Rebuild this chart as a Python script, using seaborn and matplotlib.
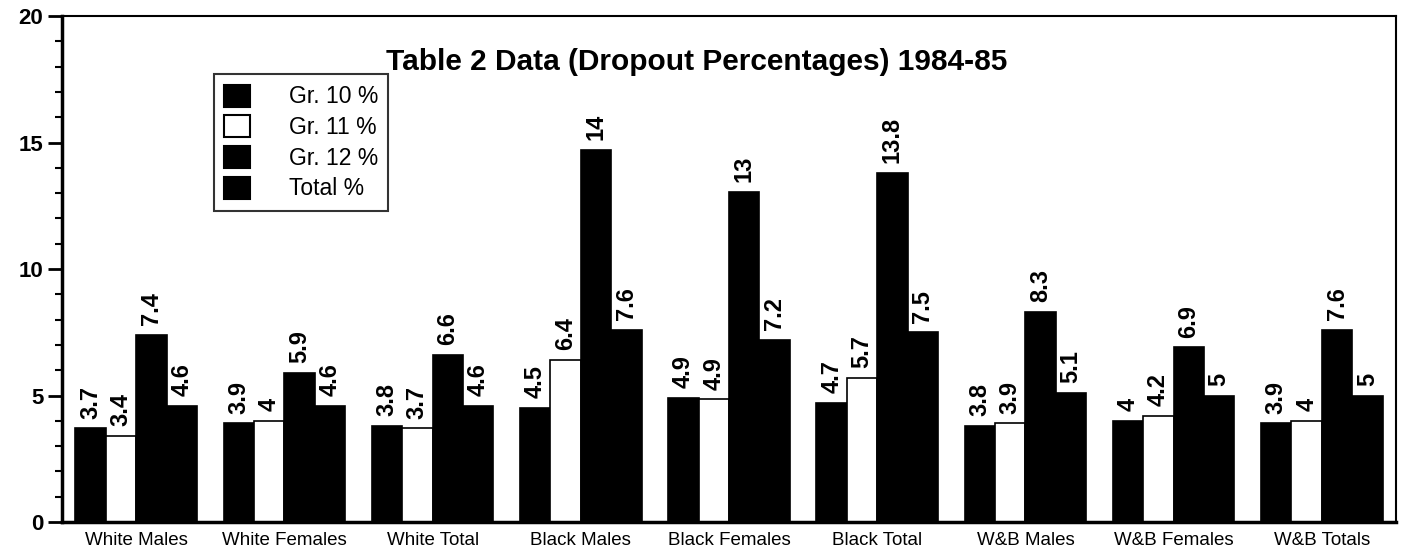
import matplotlib
matplotlib.use("Agg")
import matplotlib.pyplot as plt
from matplotlib.patches import Patch
from matplotlib.ticker import MultipleLocator
import seaborn as sns
import pandas as pd

# data
categories = ["White Males", "White Females", "White Total", "Black Males",
              "Black Females", "Black Total", "W&B Males", "W&B Females", "W&B Totals"]
series = ["Gr. 10 %", "Gr. 11 %", "Gr. 12 %", "Total %"]
gr10 = [3.7, 3.9, 3.8, 4.5, 4.9, 4.7, 3.8, 4.0, 3.9]
gr11 = [3.4, 4.0, 3.7, 6.4, 4.85, 5.7, 3.9, 4.2, 4.0]
gr12 = [7.4, 5.9, 6.6, 14.7, 13.05, 13.8, 8.3, 6.9, 7.6]
total = [4.6, 4.6, 4.6, 7.6, 7.2, 7.5, 5.1, 5.0, 5.0]
# printed labels (as shown in the chart)
gr10_lbl = ["3.7", "3.9", "3.8", "4.5", "4.9", "4.7", "3.8", "4", "3.9"]
gr11_lbl = ["3.4", "4", "3.7", "6.4", "4.9", "5.7", "3.9", "4.2", "4"]
gr12_lbl = ["7.4", "5.9", "6.6", "14", "13", "13.8", "8.3", "6.9", "7.6"]
total_lbl = ["4.6", "4.6", "4.6", "7.6", "7.2", "7.5", "5.1", "5", "5"]

values = [gr10, gr11, gr12, total]
labels = [gr10_lbl, gr11_lbl, gr12_lbl, total_lbl]
colors = ["black", "white", "black", "black"]

rows = []
for s, vals in zip(series, values):
    for c, v in zip(categories, vals):
        rows.append({"Category": c, "Series": s, "Value": v})
df = pd.DataFrame(rows)

sns.set_style("white")
plt.rcParams["font.family"] = ["Liberation Sans", "DejaVu Sans"]
plt.rcParams["text.color"] = "black"
plt.rcParams["xtick.color"] = "black"
plt.rcParams["ytick.color"] = "black"
plt.rcParams["axes.labelcolor"] = "black"

fig = plt.figure(figsize=(14.01, 5.52), dpi=100)
ax = fig.add_axes([0.0443, 0.0543, 0.9521, 0.9167])

sns.barplot(data=df, x="Category", y="Value", hue="Series", order=categories,
            hue_order=series, palette=colors, edgecolor="black", linewidth=1.2,
            width=0.82, gap=0, saturation=1, legend=False, ax=ax)

for cont, lbls in zip(ax.containers, labels):
    for bar, txt in zip(cont, lbls):
        x = bar.get_x() + bar.get_width() / 2
        ax.annotate(txt, (x, bar.get_height()), xytext=(0, 7), textcoords="offset points",
                    rotation=90, ha="center", va="bottom", fontsize=17, fontweight="bold")

ax.set_xlim(-0.5, len(categories) - 0.5)
ax.set_ylim(0, 20)
ax.yaxis.set_major_locator(MultipleLocator(5))
ax.yaxis.set_minor_locator(MultipleLocator(1))
ax.tick_params(axis="y", which="major", length=10, width=2, labelsize=16, left=True)
ax.tick_params(axis="y", which="minor", length=5, width=1.5, left=True)
ax.tick_params(axis="x", length=0, labelsize=13.5, pad=7)
for t in ax.get_yticklabels():
    t.set_fontweight("bold")
ax.set_xlabel("")
ax.set_ylabel("")

for side in ["top", "right"]:
    ax.spines[side].set_linewidth(1.5)
    ax.spines[side].set_color("black")
for side in ["left", "bottom"]:
    ax.spines[side].set_linewidth(2.5)
    ax.spines[side].set_color("black")

ax.text(0.476, 0.91, "Table 2 Data (Dropout Percentages) 1984-85", transform=ax.transAxes,
        ha="center", va="center", fontsize=21.5, fontweight="bold")

handles = [Patch(facecolor=c, edgecolor="black", linewidth=1.5) for c in colors]
leg = ax.legend(handles, series, loc="upper left", bbox_to_anchor=(0.114, 0.885),
                fontsize=16.5, frameon=True, fancybox=False, edgecolor="black",
                handlelength=1.1, handleheight=1.1, handletextpad=1.7,
                labelspacing=0.3, borderpad=0.45, borderaxespad=0)
leg.get_frame().set_linewidth(1.5)

fig.savefig("out.png", dpi=100)
